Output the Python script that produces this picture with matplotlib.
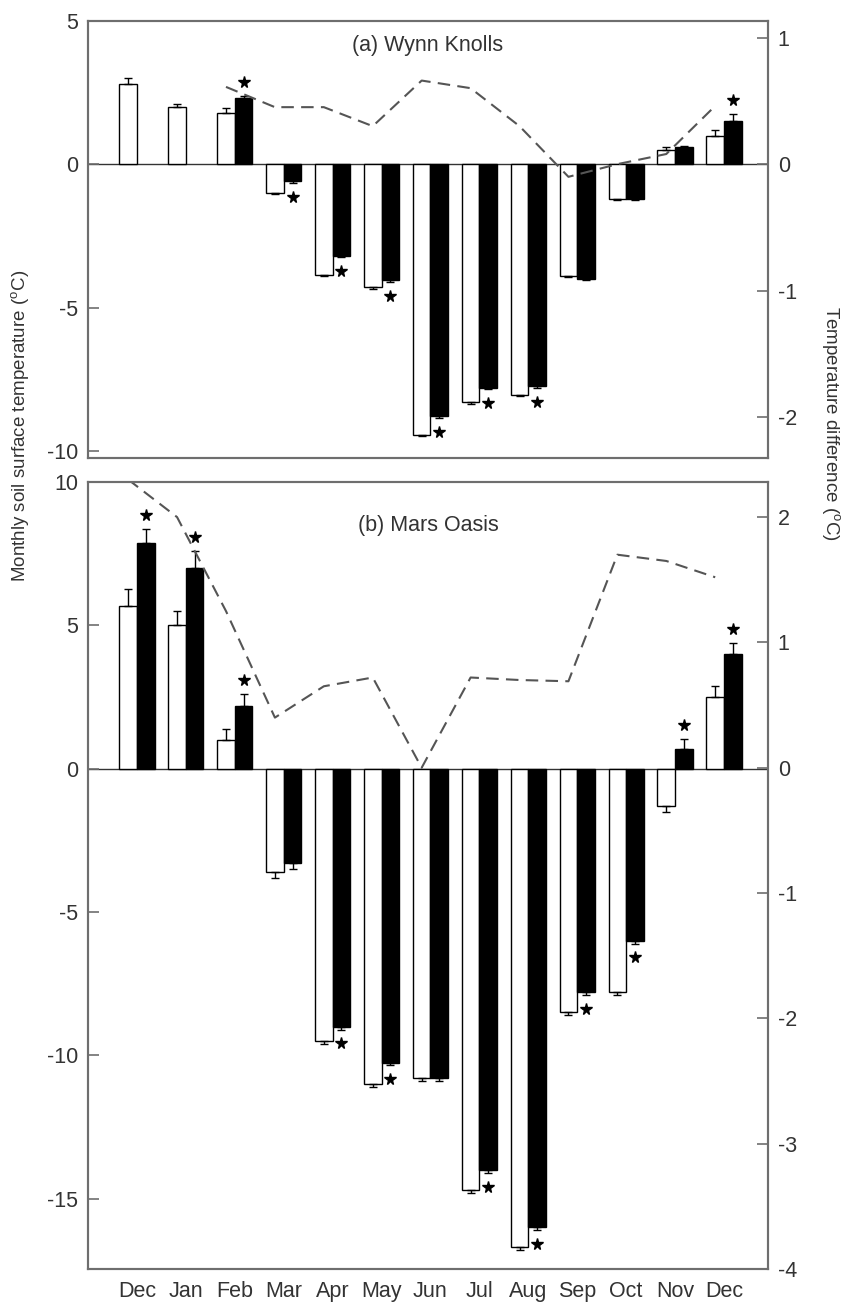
import numpy as np
import matplotlib
matplotlib.use('Agg')
import matplotlib.pyplot as plt
from matplotlib.transforms import offset_copy

plt.rcParams['font.family'] = ['Liberation Sans', 'DejaVu Sans']
plt.rcParams['mathtext.fontset'] = 'custom'
plt.rcParams['mathtext.rm'] = 'Liberation Sans'
plt.rcParams['axes.unicode_minus'] = False

months = ['Dec', 'Jan', 'Feb', 'Mar', 'Apr', 'May', 'Jun',
          'Jul', 'Aug', 'Sep', 'Oct', 'Nov', 'Dec']
nan = np.nan

# (a) Wynn Knolls
wk_open = [2.8, 2.0, 1.8, -1.0, -3.85, -4.3, -9.45, -8.3, -8.05, -3.9, -1.2, 0.5, 1.0]
wk_open_err = [0.2, 0.1, 0.15, 0.05, 0.05, 0.05, 0.05, 0.05, 0.05, 0.05, 0.05, 0.1, 0.2]
wk_black = [nan, nan, 2.3, -0.6, -3.2, -4.05, -8.8, -7.8, -7.75, -4.0, -1.2, 0.6, 1.5]
wk_black_err = [0, 0, 0.1, 0.05, 0.05, 0.05, 0.05, 0.05, 0.05, 0.05, 0.05, 0.05, 0.25]
wk_star = [0, 0, 1, 1, 1, 1, 1, 1, 1, 0, 0, 0, 1]
wk_diff = [nan, nan, 0.61, 0.45, 0.45, 0.3, 0.66, 0.6, 0.3, -0.1, 0.0, 0.08, 0.46]

# (b) Mars Oasis
mo_open = [5.68, 5.0, 1.0, -3.6, -9.5, -11.0, -10.8, -14.7, -16.7, -8.5, -7.8, -1.3, 2.5]
mo_open_err = [0.6, 0.5, 0.4, 0.2, 0.1, 0.1, 0.1, 0.1, 0.1, 0.1, 0.1, 0.2, 0.4]
mo_black = [7.87, 7.0, 2.2, -3.3, -9.0, -10.25, -10.8, -14.0, -16.0, -7.8, -6.0, 0.7, 4.0]
mo_black_err = [0.5, 0.6, 0.4, 0.2, 0.1, 0.1, 0.1, 0.1, 0.1, 0.1, 0.1, 0.35, 0.4]
mo_star = [1, 1, 1, 0, 1, 1, 0, 1, 1, 1, 1, 1, 1]
mo_diff = [2.3, 2.0, 1.25, 0.4, 0.65, 0.72, 0.0, 0.72, 0.7, 0.69, 1.7, 1.65, 1.52]

SPINE = '#6e6e6e'
TXT = '#333333'
FS = 15.5
W = 0.36


def one_sided(vals, errs):
    v = np.array(vals, dtype=float)
    e = np.array(errs, dtype=float)
    lo = np.where(v < 0, e, 0)
    hi = np.where(v >= 0, e, 0)
    return [lo, hi]


def draw_panel(fig, ax, opn, opn_err, blk, blk_err, star, diff, title,
               ylim, yticks, ylim2, yticks2, show_x):
    x = np.arange(len(months))
    xo = x - W / 2
    xb = x + W / 2
    ax.bar(xo, opn, W, color='white', edgecolor='black', linewidth=1.0, zorder=2)
    ax.bar(xb, blk, W, color='black', edgecolor='black', linewidth=1.0, zorder=2)
    ax.errorbar(xo, opn, yerr=one_sided(opn, opn_err), fmt='none', ecolor='black',
                elinewidth=1.0, capsize=3, capthick=1.0, zorder=3)
    ax.errorbar(xb, blk, yerr=one_sided(blk, blk_err), fmt='none', ecolor='black',
                elinewidth=1.0, capsize=3, capthick=1.0, zorder=3)
    ax.axhline(0, color='#333333', linewidth=1.0, zorder=1)

    # stars beyond the error bar of the dark bar
    b = np.array(blk, dtype=float)
    be = np.array(blk_err, dtype=float)
    s = np.array(star, dtype=bool)
    up = s & (b >= 0)
    dn = s & (b < 0)
    t_up = offset_copy(ax.transData, fig=fig, x=0, y=10, units='points')
    t_dn = offset_copy(ax.transData, fig=fig, x=0, y=-10, units='points')
    ax.plot(xb[up], (b + be)[up], linestyle='none', marker='*', markersize=8.5,
            color='black', transform=t_up, zorder=4, clip_on=False)
    ax.plot(xb[dn], (b - be)[dn], linestyle='none', marker='*', markersize=8.5,
            color='black', transform=t_dn, zorder=4, clip_on=False)

    ax.set_xlim(-1.0, 12.9)
    ax.set_ylim(*ylim)
    ax.set_yticks(yticks)
    ax.set_xticks(x)
    if show_x:
        ax.set_xticklabels(months)
    else:
        ax.set_xticklabels([])
    ax.tick_params(axis='x', length=0, pad=9, labelsize=FS, labelcolor=TXT)
    ax.tick_params(axis='y', direction='in', length=8, width=1.2, color=SPINE,
                   pad=7, labelsize=FS, labelcolor=TXT)
    for sp in ax.spines.values():
        sp.set_color(SPINE)
        sp.set_linewidth(1.5)

    ax2 = ax.twinx()
    ax2.plot(xo, diff, linestyle=(0, (6, 3.5)), color='#555555', linewidth=1.5)
    ax2.set_ylim(*ylim2)
    ax2.set_yticks(yticks2)
    ax2.tick_params(axis='y', direction='in', length=8, width=1.2, color=SPINE,
                    pad=7, labelsize=FS, labelcolor=TXT)
    for sp in ax2.spines.values():
        sp.set_color(SPINE)
        sp.set_linewidth(1.5)

    ax.text(0.5, 0.945, title, transform=ax.transAxes, ha='center', va='center',
            fontsize=FS, color=TXT)


fig = plt.figure(figsize=(8.44, 13.07), dpi=100)
ax_a = fig.add_axes([0.1043, 0.6496, 0.8057, 0.3343])
ax_b = fig.add_axes([0.1043, 0.0291, 0.8057, 0.6021])

draw_panel(fig, ax_a, wk_open, wk_open_err, wk_black, wk_black_err, wk_star, wk_diff,
           '(a) Wynn Knolls', (-10.25, 5.0), [-10, -5, 0, 5],
           (-2.32, 1.13), [-2, -1, 0, 1], False)
draw_panel(fig, ax_b, mo_open, mo_open_err, mo_black, mo_black_err, mo_star, mo_diff,
           '(b) Mars Oasis', (-17.45, 10.0), [-15, -10, -5, 0, 5, 10],
           (-4.0, 2.28), [-4, -3, -2, -1, 0, 1, 2], True)

fig.text(0.024, 0.674, r'Monthly soil surface temperature ($^{\rm o}$C)', rotation=90,
         ha='center', va='center', fontsize=13.5, color=TXT)
fig.text(0.984, 0.676, r'Temperature difference ($^{\rm o}$C)', rotation=270,
         ha='center', va='center', fontsize=13.5, color=TXT)

fig.savefig('out.png', dpi=100)
